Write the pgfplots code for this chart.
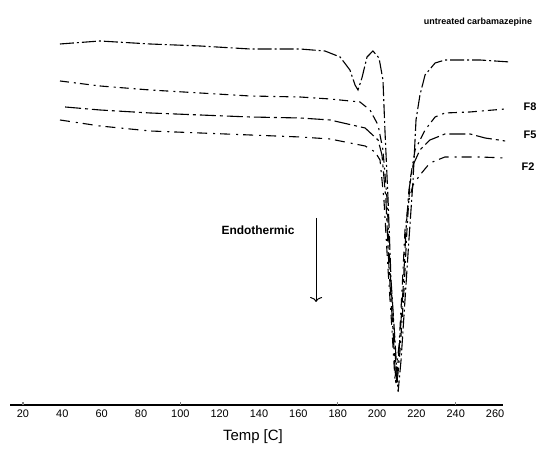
\documentclass[border=0pt]{standalone}
\usepackage{pgfplots}
\pgfplotsset{compat=1.18}
\usetikzlibrary{arrows.meta}
\usepackage{fontspec}
\setmainfont{Liberation Sans}
\begin{document}
\begin{tikzpicture}
\begin{axis}[
  scale only axis, width=493bp, height=405bp,
  xmin=13.4, xmax=264, ymin=46, ymax=451,
  axis x line*=bottom, hide y axis, clip=false,
  x axis line style={line width=1.6bp},
  xtick={20,40,...,260},
  major tick length=0pt,
  extra x ticks={20,100,180,240},
  extra x tick labels={},
  extra x tick style={major tick length=3bp, tick align=inside, tick style={line width=1.2bp}},
  xticklabel style={font=\fontsize{11}{12}\selectfont, yshift=-1bp},
  /pgf/number format/assume math mode=true,
  every axis plot/.append style={black, line width=1.1bp, no marks},
]
% untreated carbamazepine
\addplot[dash pattern=on 14bp off 3bp on 2bp off 3bp] coordinates {
(38.8,407)(59.1,410)(84.6,407)(110.0,405)(135.4,402)(160.8,402)(173.5,400)(181.2,394)(186.2,381)(188.8,366)(190.3,361)(192.3,373)(194.9,394)(197.9,400)(201.0,393)(203.0,371)(204.0,321)(205.6,251)(207.1,171)(209.1,111)(210.7,59)(212.2,91)(214.2,151)(216.2,211)(218.3,271)(219.8,331)(221.8,356)(224.4,376)(229.5,388)(234.5,391)(252.3,391)(267.6,389)};
% F8
\addplot[dash pattern=on 9bp off 5bp on 2bp off 4bp] coordinates {
(38.8,370)(59.1,365)(84.6,361)(110.0,358)(135.4,355)(160.8,354)(176.1,352)(191.3,349)(196.4,341)(200.5,326)(203.0,301)(205.1,251)(206.6,181)(208.6,121)(210.1,66)(211.7,101)(213.7,161)(215.2,221)(216.8,271)(219.3,301)(224.4,321)(229.5,334)(234.5,338)(247.3,339)(265.1,342)};
% F5
\addplot[dash pattern=on 16bp off 4bp on 3bp off 4bp] coordinates {
(41.4,344)(59.1,341)(84.6,338)(110.0,336)(135.4,334)(160.8,333)(176.1,331)(193.9,323)(200.5,311)(202.5,296)(204.5,251)(206.1,181)(208.1,121)(209.6,66)(211.2,101)(213.2,161)(214.7,221)(216.2,261)(218.3,286)(221.8,301)(226.9,311)(234.5,317)(247.3,317)(254.9,313)(265.1,310)};
% F2
\addplot[dash pattern=on 10bp off 6bp on 2bp off 5bp] coordinates {
(38.8,331)(59.1,325)(84.6,320)(110.0,318)(135.4,316)(160.8,314)(176.1,312)(193.9,305)(199.0,299)(201.5,291)(203.5,251)(205.6,181)(207.6,121)(209.1,71)(211.2,106)(212.7,161)(214.2,221)(216.2,251)(218.3,266)(221.8,276)(226.9,288)(234.5,294)(252.3,294)(265.1,293)};
\node[font=\fontsize{9}{10}\selectfont\bfseries] at (axis cs:251.3,429) {untreated carbamazepine};
\node[font=\fontsize{11}{12}\selectfont\bfseries] at (axis cs:277.8,344) {F8};
\node[font=\fontsize{11}{12}\selectfont\bfseries] at (axis cs:277.8,316) {F5};
\node[font=\fontsize{11}{12}\selectfont\bfseries] at (axis cs:276.8,284) {F2};
\node[font=\fontsize{12}{13}\selectfont\bfseries] at (axis cs:139.5,221) {Endothermic};
\draw[-{To[length=5bp,width=12bp]}, line width=1bp] (axis cs:169.0,233) -- (axis cs:169.0,149);
\node[font=\fontsize{15}{16}\selectfont] at (axis cs:136.9,14) {Temp [C]};
\coordinate (BL) at (axis cs:8.31,0);
\coordinate (TR) at (axis cs:290.97,451);
\end{axis}
\pgfresetboundingbox
\path (BL) rectangle (TR);
\end{tikzpicture}
\end{document}
